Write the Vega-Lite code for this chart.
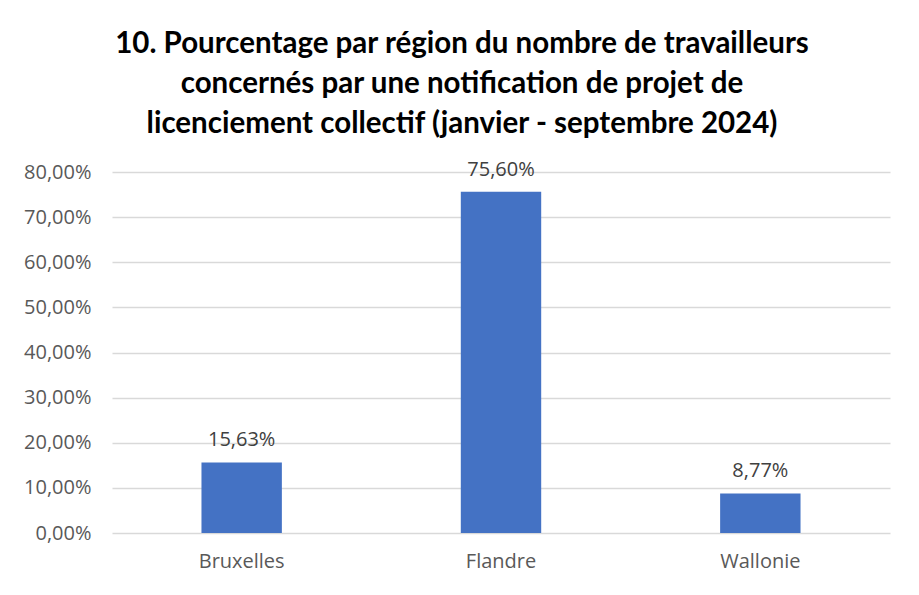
{
  "$schema": "https://vega.github.io/schema/vega-lite/v6.json",
  "width": 778,
  "height": 361,
  "autosize": {"type": "none"},
  "padding": {"left": 112, "top": 172, "right": 29, "bottom": 62},
  "background": "white",
  "config": {
    "locale": {"number": {"decimal": ",", "thousands": " ", "grouping": [3], "currency": ["", " €"]}},
    "view": {"stroke": null},
    "font": "Open Sans"
  },
  "title": {
    "text": ["10. Pourcentage par région du nombre de travailleurs", "concernés par une notification de projet de", "licenciement collectif (janvier - septembre 2024)"],
    "font": "Lato",
    "fontSize": 29.5,
    "fontWeight": "bold",
    "color": "#000000",
    "lineHeight": 40,
    "anchor": "middle",
    "dx": -39,
    "offset": 20
  },
  "data": {
    "values": [
      {"region": "Bruxelles", "pct": 0.1563},
      {"region": "Flandre", "pct": 0.756},
      {"region": "Wallonie", "pct": 0.0877}
    ]
  },
  "encoding": {
    "x": {
      "field": "region",
      "type": "nominal",
      "sort": null,
      "scale": {"paddingInner": 0.69, "paddingOuter": 0.345},
      "axis": {
        "title": null,
        "labelAngle": 0,
        "labelFontSize": 20,
        "labelColor": "#595959",
        "labelPadding": 18,
        "ticks": false,
        "domain": false
      }
    },
    "y": {
      "field": "pct",
      "type": "quantitative",
      "scale": {"domain": [0, 0.8], "nice": false},
      "axis": {
        "title": null,
        "format": ".2%",
        "values": [0, 0.1, 0.2, 0.3, 0.4, 0.5, 0.6, 0.7, 0.8],
        "labelOverlap": false,
        "labelFontSize": 20,
        "labelColor": "#595959",
        "labelPadding": 21,
        "ticks": false,
        "domain": false,
        "gridColor": "#d9d9d9",
        "gridWidth": 1.3
      }
    }
  },
  "layer": [
    {"mark": {"type": "bar", "color": "#4472c4"}},
    {
      "mark": {"type": "text", "baseline": "bottom", "dy": -12, "fontSize": 20, "color": "#404040"},
      "encoding": {"text": {"field": "pct", "type": "quantitative", "format": ".2%"}}
    }
  ]
}
